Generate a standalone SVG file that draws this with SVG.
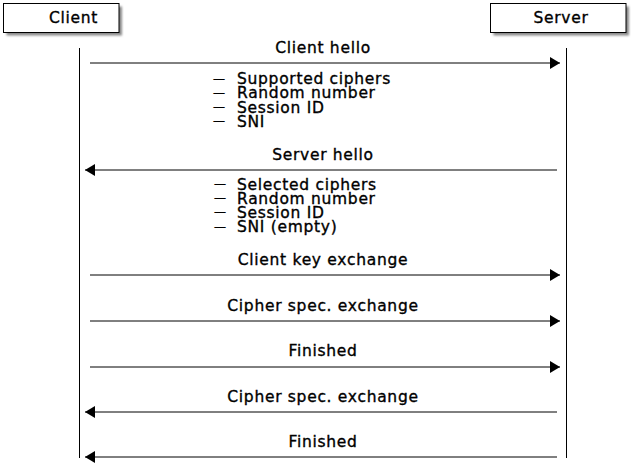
<svg xmlns="http://www.w3.org/2000/svg" width="632" height="464" viewBox="0 0 632 464">
  <style>
    text { font-family: "DejaVu Sans", "Liberation Sans", sans-serif; font-size: 15.5px; letter-spacing: 0.7px; fill: #000; stroke: #000; stroke-width: 0.35px; }
    .dash { font-size: 12px; letter-spacing: 0; }
    .box { fill: #fff; stroke: #000; stroke-width: 1; }
    .shadow { fill: #8a8a8a; filter: url(#soft); }
    .life { stroke: #000; stroke-width: 1; fill: none; }
    .msg { stroke: #000; stroke-width: 1; fill: none; }
    .label { text-anchor: middle; }
  </style>
  <defs>
    <filter id="soft" x="-10%" y="-30%" width="120%" height="160%">
      <feGaussianBlur stdDeviation="1"/>
    </filter>
    <marker id="head" viewBox="0 0 10 12" refX="10" refY="6" markerWidth="10" markerHeight="12" markerUnits="userSpaceOnUse" orient="auto">
      <path d="M0,0 L10,6 L0,12 Z" fill="#000"/>
    </marker>
  </defs>

  <rect width="632" height="464" fill="#fff"/>

  <!-- participants -->
  <g id="client">
    <rect class="shadow" x="6.5" y="6.5" width="115.5" height="29"/>
    <rect class="box" x="3.5" y="3.5" width="115.5" height="29"/>
    <text class="label" x="73.5" y="23">Client</text>
  </g>
  <g id="server">
    <rect class="shadow" x="493.5" y="6.5" width="135.5" height="29"/>
    <rect class="box" x="490.5" y="3.5" width="135.5" height="29"/>
    <text class="label" x="561" y="23">Server</text>
  </g>

  <!-- lifelines and messages -->
  <g id="connectors">
    <line class="life" x1="79.5" y1="48" x2="79.5" y2="458"/>
    <line class="life" x1="566.5" y1="48" x2="566.5" y2="458"/>

    <line class="msg" x1="90" y1="63" x2="560" y2="63" marker-end="url(#head)"/>
    <line class="msg" x1="557" y1="170" x2="85" y2="170" marker-end="url(#head)"/>
    <line class="msg" x1="90" y1="275" x2="560" y2="275" marker-end="url(#head)"/>
    <line class="msg" x1="90" y1="321" x2="560" y2="321" marker-end="url(#head)"/>
    <line class="msg" x1="90" y1="367" x2="560" y2="367" marker-end="url(#head)"/>
    <line class="msg" x1="557" y1="412" x2="85" y2="412" marker-end="url(#head)"/>
    <line class="msg" x1="557" y1="457" x2="85" y2="457" marker-end="url(#head)"/>
  </g>

  <!-- message labels -->
  <g id="labels">
    <text class="label" x="323" y="52.5">Client hello</text>
    <text class="label" x="323" y="159.5">Server hello</text>
    <text class="label" x="323" y="264.5">Client key exchange</text>
    <text class="label" x="323" y="310.5">Cipher spec. exchange</text>
    <text class="label" x="323" y="356">Finished</text>
    <text class="label" x="323" y="401.5">Cipher spec. exchange</text>
    <text class="label" x="323" y="446.5">Finished</text>
  </g>

  <!-- notes under the hello messages; the dash is raised to mid x-height -->
  <g id="client-hello-notes">
    <text y="84"><tspan class="dash" x="213" dy="-1.5">—</tspan><tspan x="237" dy="1.5">Supported ciphers</tspan></text>
    <text y="98.3"><tspan class="dash" x="213" dy="-1.5">—</tspan><tspan x="237" dy="1.5">Random number</tspan></text>
    <text y="112.6"><tspan class="dash" x="213" dy="-1.5">—</tspan><tspan x="237" dy="1.5">Session ID</tspan></text>
    <text y="126.9"><tspan class="dash" x="213" dy="-1.5">—</tspan><tspan x="237" dy="1.5">SNI</tspan></text>
  </g>
  <g id="server-hello-notes">
    <text y="189.5"><tspan class="dash" x="214" dy="-1.5">—</tspan><tspan x="237" dy="1.5">Selected ciphers</tspan></text>
    <text y="203.7"><tspan class="dash" x="214" dy="-1.5">—</tspan><tspan x="237" dy="1.5">Random number</tspan></text>
    <text y="217.9"><tspan class="dash" x="214" dy="-1.5">—</tspan><tspan x="237" dy="1.5">Session ID</tspan></text>
    <text y="232.1"><tspan class="dash" x="214" dy="-1.5">—</tspan><tspan x="237" dy="1.5">SNI (empty)</tspan></text>
  </g>
</svg>
